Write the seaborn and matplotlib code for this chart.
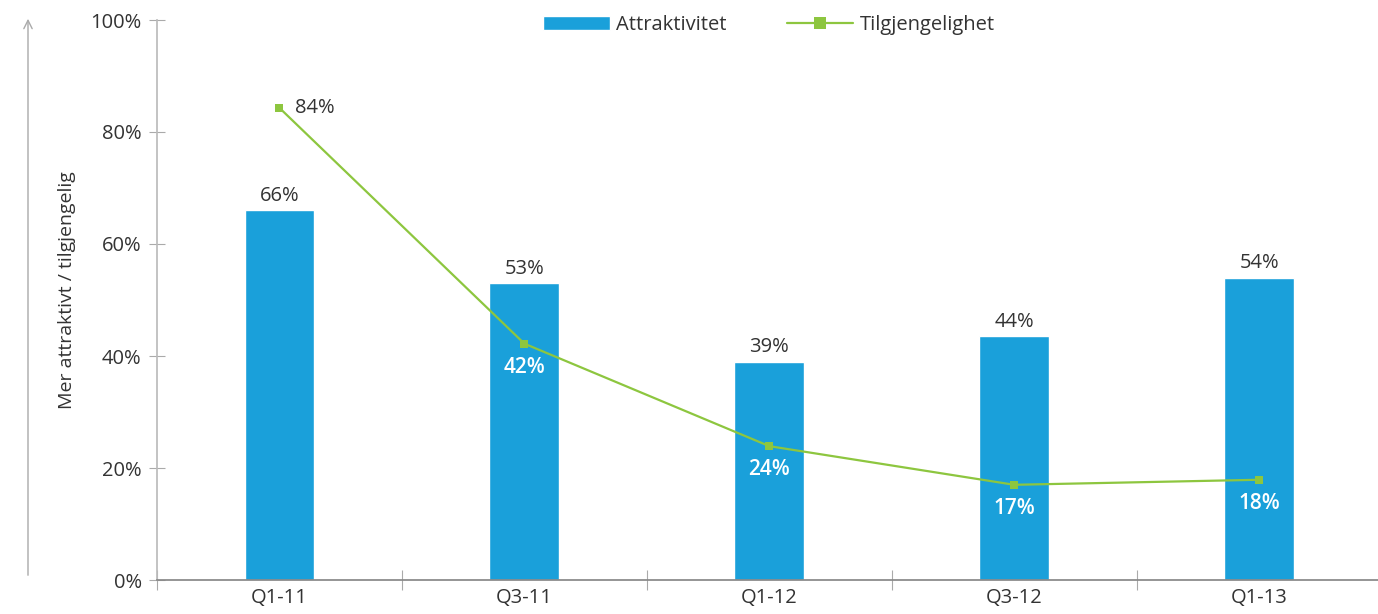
import numpy as np
import seaborn as sns
import matplotlib.pyplot as plt
from matplotlib.ticker import FuncFormatter, FixedLocator

sns.set_theme(style="white")
plt.rcParams['font.family'] = ['Open Sans', 'DejaVu Sans']

quarters = ["Q1-11", "Q3-11", "Q1-12", "Q3-12", "Q1-13"]
attraktivitet = [66, 53, 39, 43.6, 54]
tilgjengelighet = [84.3, 42.2, 23.9, 17.0, 17.9]
attr_labels = ["66%", "53%", "39%", "44%", "54%"]
tilg_labels = ["84%", "42%", "24%", "17%", "18%"]

blue = "#1AA0DA"
green = "#8DC63F"
text_col = "#333333"

fig = plt.figure(figsize=(13.78, 6.14), dpi=100)
ax = fig.add_axes([157 / 1378, 34 / 614, 1 - 157 / 1378, 560 / 614])

sns.barplot(x=quarters, y=attraktivitet, color=blue, width=0.285, saturation=1,
            ax=ax, label="Attraktivitet")
sns.lineplot(x=quarters, y=tilgjengelighet, color=green, linewidth=1.6, marker="s",
             markersize=5.5, markeredgewidth=0, sort=False, ax=ax, label="Tilgjengelighet")

ax.set_ylim(0, 100)
ax.set_xlim(-0.5, 4.485)
ax.yaxis.set_major_locator(FixedLocator([0, 20, 40, 60, 80, 100]))
ax.yaxis.set_major_formatter(FuncFormatter(lambda v, p: f"{v:.0f}%"))
ax.set_xticks(np.arange(-0.5, 4.5, 1.0), minor=True)
ax.tick_params(axis="x", which="major", bottom=False, length=0, labelsize=14.5,
               colors=text_col, pad=6)
ax.tick_params(axis="x", which="minor", bottom=True, direction="inout", length=14,
               width=0.8, color="#AAAAAA")
ax.tick_params(axis="y", which="major", left=True, direction="inout", length=12, width=0.8,
               color="#AAAAAA", labelsize=14.5, labelcolor=text_col, pad=5)
sns.despine(ax=ax, top=True, right=True)
ax.spines["left"].set_color("#BBBBBB")
ax.spines["bottom"].set_color("#888888")
ax.set_xlabel("")
ax.set_ylabel("")

for i, (v, lab) in enumerate(zip(attraktivitet, attr_labels)):
    ax.annotate(lab, (i, v), xytext=(0, 3), textcoords="offset points",
                ha="center", va="bottom", fontsize=14.5, color=text_col)

for i, (v, lab) in enumerate(zip(tilgjengelighet, tilg_labels)):
    if i == 0:
        ax.annotate(lab, (i, v), xytext=(11, 0), textcoords="offset points",
                    ha="left", va="center", fontsize=14.5, color=text_col)
    else:
        ax.annotate(lab, (i, v), xytext=(0, -17), textcoords="offset points",
                    ha="center", va="center", fontsize=15, color="white",
                    fontweight="semibold")

handles, labels = ax.get_legend_handles_labels()
order = [labels.index("Attraktivitet"), labels.index("Tilgjengelighet")]
leg = ax.legend([handles[k] for k in order], [labels[k] for k in order],
                loc="center", bbox_to_anchor=(769 / 1378, 1 - 25 / 614),
                bbox_transform=fig.transFigure, ncol=2, frameon=False, fontsize=14.5,
                handlelength=3.3, handletextpad=0.3, columnspacing=3.0, markerscale=1.6)
for t in leg.get_texts():
    t.set_color(text_col)

# arrow and axis title on the far left
fig.add_artist(plt.matplotlib.patches.FancyArrowPatch(
    (28 / 1378, 1 - 578 / 614), (28 / 1378, 1 - 16 / 614), transform=fig.transFigure,
    arrowstyle="->,head_length=6,head_width=3", color="#AAAAAA", linewidth=1.0))
fig.text(67 / 1378, 1 - 290 / 614, "Mer attraktivt / tilgjengelig", rotation=90,
         ha="center", va="center", fontsize=14, color=text_col)

fig.savefig("out.png", dpi=100)
